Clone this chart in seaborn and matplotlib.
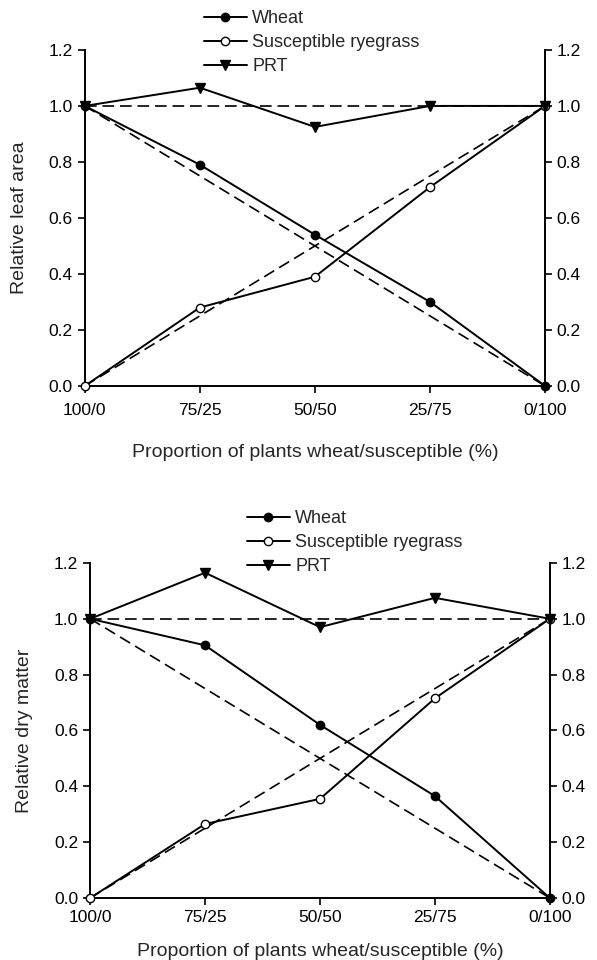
import matplotlib
matplotlib.use("Agg")
import matplotlib.pyplot as plt
import seaborn as sns
import pandas as pd

categories = ["100/0", "75/25", "50/50", "25/75", "0/100"]

leaf_wheat = [1.0, 0.79, 0.54, 0.30, 0.0]
leaf_susc = [0.0, 0.28, 0.39, 0.71, 1.0]
leaf_prt = [1.0, 1.065, 0.925, 1.0, 1.0]

dry_wheat = [1.0, 0.905, 0.62, 0.365, 0.0]
dry_susc = [0.0, 0.265, 0.355, 0.715, 1.0]
dry_prt = [1.0, 1.165, 0.97, 1.075, 1.0]

exp_wheat = [1.0, 0.75, 0.5, 0.25, 0.0]
exp_susc = [0.0, 0.25, 0.5, 0.75, 1.0]
exp_prt = [1.0, 1.0, 1.0, 1.0, 1.0]

yticks = [0.0, 0.2, 0.4, 0.6, 0.8, 1.0, 1.2]
xlabel = "Proportion of plants wheat/susceptible (%)"

sns.set_style("ticks")
plt.rcParams['font.family'] = ['Liberation Sans', 'DejaVu Sans']
plt.rcParams['font.size'] = 12

fig = plt.figure(figsize=(5.97, 9.6), dpi=100)
ax1 = fig.add_axes([0.142, 0.598, 0.771, 0.350])
ax2 = fig.add_axes([0.151, 0.0646, 0.770, 0.349])

def draw(ax, wheat, susc, prt, ylabel, legend_anchor, xpad, xlabelpad):
    pos = list(range(len(categories)))
    for vals in (exp_wheat, exp_susc, exp_prt):
        df = pd.DataFrame({"x": pos, "y": vals})
        sns.lineplot(data=df, x="x", y="y", ax=ax, color="black", lw=1.2,
                     linestyle=(0, (7, 3.5)), clip_on=False)
    specs = [
        (wheat, "Wheat", dict(marker="o", markersize=6, markerfacecolor="black")),
        (susc, "Susceptible ryegrass", dict(marker="o", markersize=6, markerfacecolor="white")),
        (prt, "PRT", dict(marker="v", markersize=7, markerfacecolor="black")),
    ]
    for vals, label, kw in specs:
        df = pd.DataFrame({"x": pos, "y": vals})
        sns.lineplot(data=df, x="x", y="y", ax=ax, color="black", lw=1.4,
                     markeredgecolor="black", markeredgewidth=1.0,
                     label=label, clip_on=False, zorder=3, **kw)
    ax.set_xlim(0, 4)
    ax.set_ylim(0, 1.2)
    ax.set_xticks(pos)
    ax.set_xticklabels(categories)
    ax.set_yticks(yticks)
    ax.set_yticklabels([f"{v:.1f}" for v in yticks])
    ax.set_xlabel(xlabel, labelpad=xlabelpad, fontsize=14)
    ax.set_ylabel(ylabel, labelpad=15, fontsize=14)
    for s in ("left", "right", "bottom"):
        ax.spines[s].set_visible(True)
        ax.spines[s].set_linewidth(1.4)
        ax.spines[s].set_color("black")
    ax.spines["top"].set_visible(False)
    ax.tick_params(axis="both", direction="out", length=5, width=1.2,
                   colors="black", labelsize=12.5)
    ax.tick_params(axis="x", pad=xpad)
    ax.tick_params(axis="y", right=True, labelright=True)
    ax.legend(loc="upper left", bbox_to_anchor=legend_anchor,
              bbox_transform=fig.transFigure, frameon=False,
              handlelength=2.35, handletextpad=0.3, labelspacing=0.39,
              borderaxespad=0, borderpad=0, fontsize=13)
    return ax

draw(ax1, leaf_wheat, leaf_susc, leaf_prt, "Relative leaf area", (0.342, 0.9895), 7, 19)
draw(ax2, dry_wheat, dry_susc, dry_prt, "Relative dry matter", (0.414, 0.4685), 3.5, 13)

fig.savefig("out.png", dpi=100)
